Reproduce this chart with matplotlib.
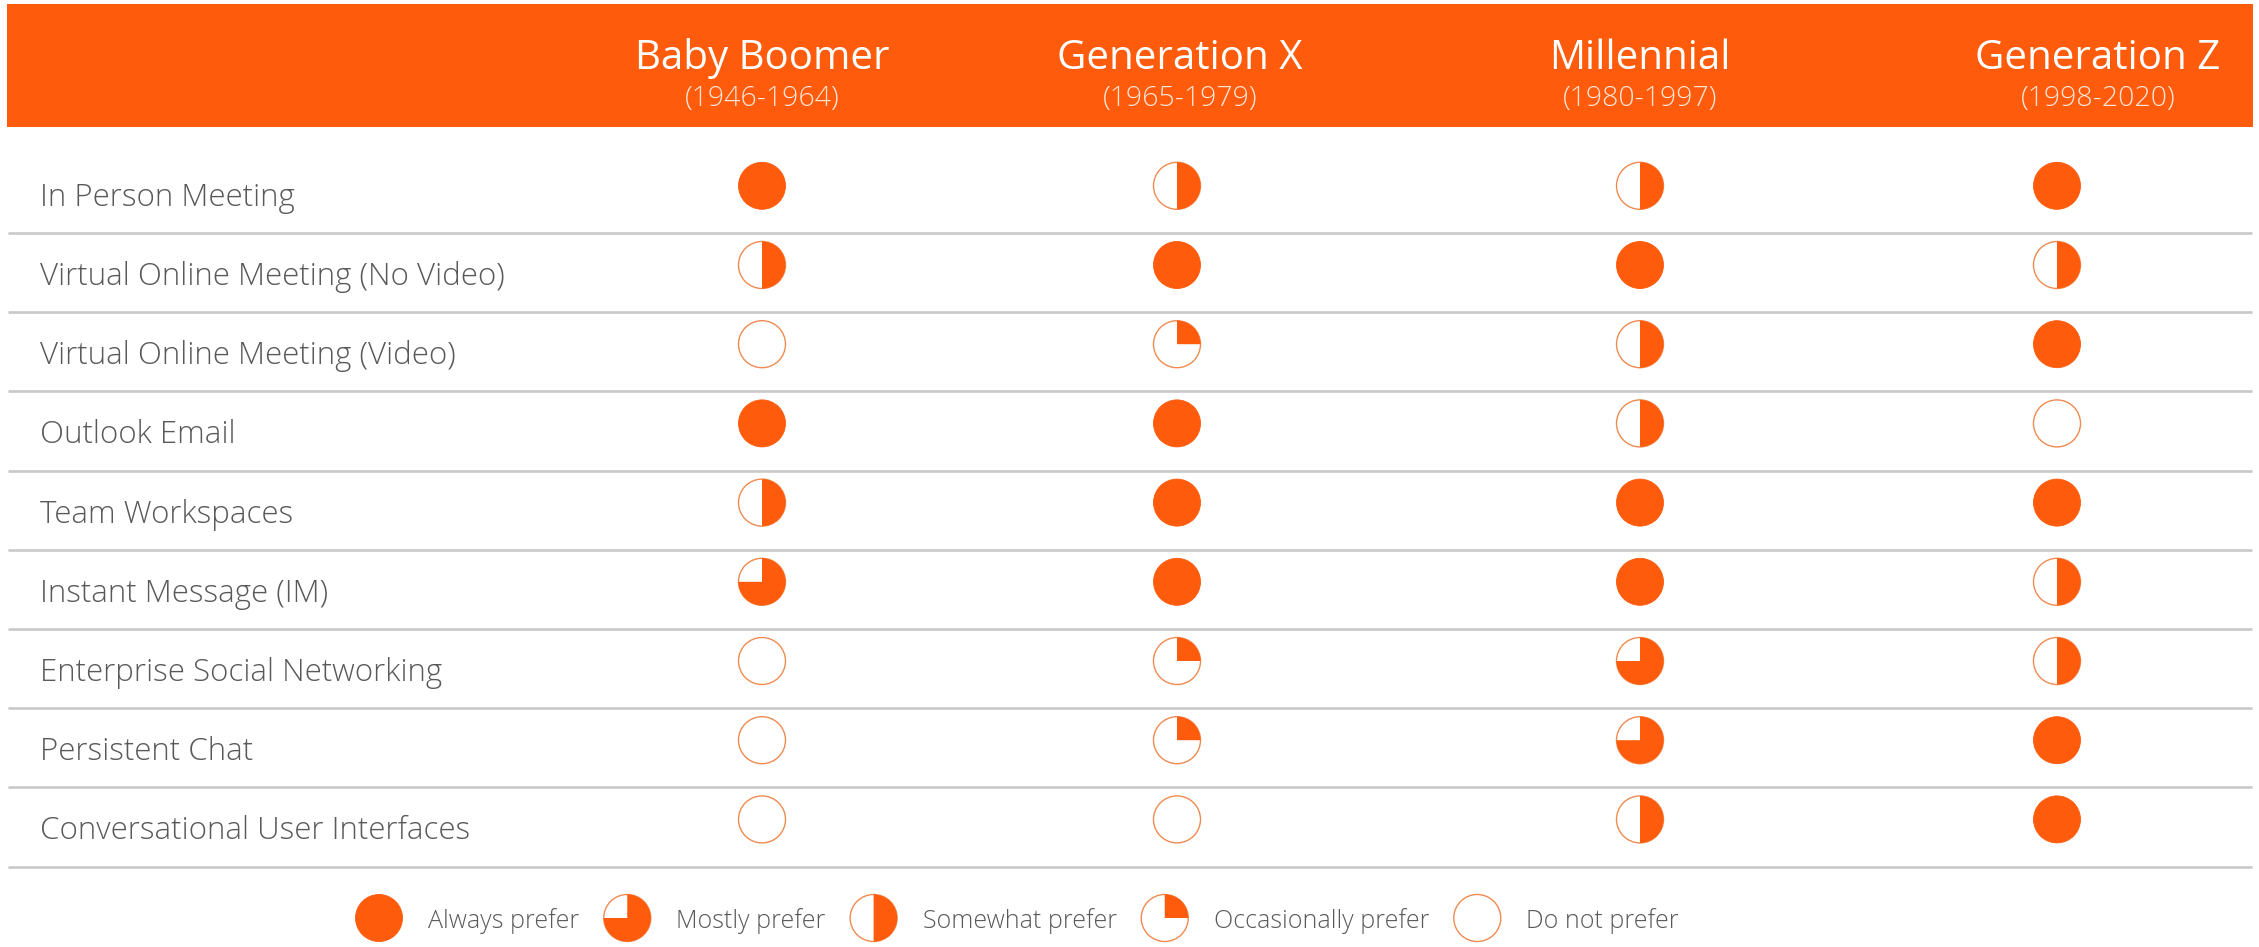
import matplotlib
matplotlib.use("Agg")
import matplotlib.pyplot as plt
from matplotlib.patches import Circle, Wedge, Rectangle

# table content
generations = ["Baby Boomer", "Generation X", "Millennial", "Generation Z"]
year_ranges = ["(1946-1964)", "(1965-1979)", "(1980-1997)", "(1998-2020)"]
channels = [
    "In Person Meeting",
    "Virtual Online Meeting (No Video)",
    "Virtual Online Meeting (Video)",
    "Outlook Email",
    "Team Workspaces",
    "Instant Message (IM)",
    "Enterprise Social Networking",
    "Persistent Chat",
    "Conversational User Interfaces",
]
# preference in quarters: 4 = always, 3 = mostly, 2 = somewhat, 1 = occasionally, 0 = not
baby_boomer = [4, 2, 0, 4, 2, 3, 0, 0, 0]
generation_x = [2, 4, 1, 4, 4, 4, 1, 1, 0]
millennial = [2, 4, 2, 2, 4, 4, 3, 3, 2]
generation_z = [4, 2, 4, 0, 4, 2, 2, 4, 4]
legend_labels = ["Always prefer", "Mostly prefer", "Somewhat prefer",
                 "Occasionally prefer", "Do not prefer"]
legend_levels = [4, 3, 2, 1, 0]

ORANGE = "#fe5b0c"
GREY_TEXT = "#595959"
LINE = "#c9c9c9"
W, H = 2259, 947


def harvey(ax, x, y, level, r=23.5):
    if level >= 4:
        ax.add_patch(Circle((x, y), r, fc=ORANGE, ec=ORANGE, lw=0.6))
        return
    ax.add_patch(Circle((x, y), r, fc="white", ec="#f08a50", lw=1.0))
    if level > 0:
        # y axis is flipped, so -90 is 12 o'clock and angles run clockwise
        ax.add_patch(Wedge((x, y), r, -90, -90 + 90 * level, fc=ORANGE, ec="none"))


def main():
    fig = plt.figure(figsize=(W / 100, H / 100), dpi=100)
    ax = fig.add_axes([0, 0, 1, 1])
    ax.set_xlim(0, W)
    ax.set_ylim(H, 0)
    ax.axis("off")

    sans = ["Open Sans", "DejaVu Sans"]
    light = dict(family=sans, weight="light")

    # header band
    ax.add_patch(Rectangle((7, 4), 2246, 123, fc=ORANGE, ec="none"))
    title_x = [762, 1180, 1640, 2098]
    ball_x = [762, 1177, 1640, 2057]
    for i, g in enumerate(generations):
        ax.text(title_x[i], 69, g, ha="center", va="baseline", color="white",
                fontsize=29, family=sans)
        ax.text(title_x[i], 106, year_ranges[i], ha="center", va="baseline",
                color="#ffe3d3", fontsize=20.5, **light)

    # rows
    step = 79.2
    seps = [233 + step * k for k in range(9)]
    tops = [seps[0] - step] + seps[:-1]
    for y in seps:
        ax.plot([8, 2252], [y, y], color=LINE, lw=1.9, solid_capstyle="butt")

    columns = [baby_boomer, generation_x, millennial, generation_z]
    for r, name in enumerate(channels):
        ax.text(40, tops[r] + 52, name, ha="left", va="baseline",
                color=GREY_TEXT, fontsize=22.5, **light)
        for c, col in enumerate(columns):
            harvey(ax, ball_x[c], tops[r] + 32, col[r])

    # legend: circle, label, then a fixed gap before the next item
    fig.canvas.draw()
    renderer = fig.canvas.get_renderer()
    cx = 379
    ly = 918
    for lab, lev in zip(legend_labels, legend_levels):
        harvey(ax, cx, ly, lev)
        t = ax.text(cx + 49, ly + 10, lab, ha="left", va="baseline",
                    color=GREY_TEXT, fontsize=18, **light)
        bb = t.get_window_extent(renderer)
        cx = cx + 49 + bb.width + 48

    fig.savefig("out.png", dpi=100, facecolor="white")


if __name__ == "__main__":
    main()
